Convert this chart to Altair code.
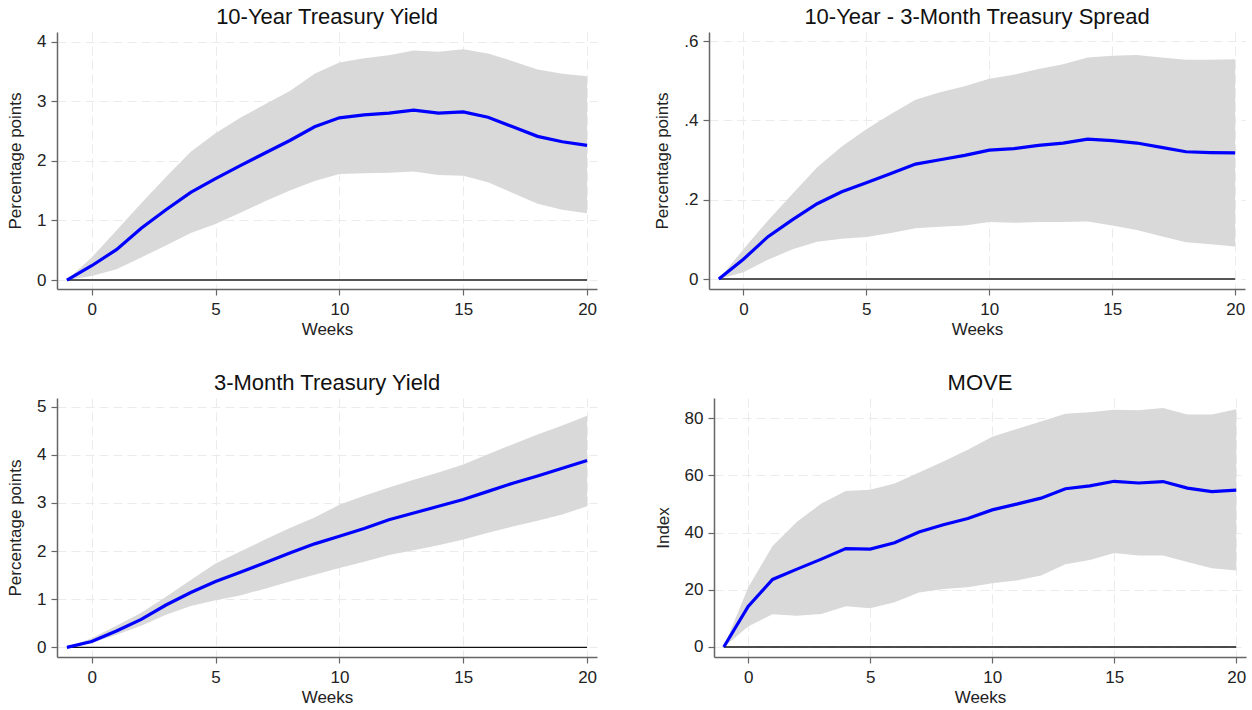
import altair as alt
import pandas as pd

# Horizon in weeks (event at week -1 normalised to zero)
weeks = list(range(-1, 21))
week_ticks = [0, 5, 10, 15, 20]

# 10-Year Treasury Yield: point estimate and confidence band
ty10_mean = [0, 0.24, 0.51, 0.87, 1.18, 1.47, 1.70, 1.92, 2.13, 2.34, 2.57,
             2.72, 2.77, 2.80, 2.85, 2.80, 2.82, 2.73, 2.57, 2.41, 2.32, 2.26]
ty10_upper = [0, 0.38, 0.83, 1.29, 1.73, 2.15, 2.46, 2.72, 2.95, 3.17, 3.46,
              3.65, 3.72, 3.77, 3.85, 3.83, 3.87, 3.80, 3.67, 3.53, 3.46, 3.42]
ty10_lower = [0, 0.07, 0.18, 0.38, 0.58, 0.79, 0.94, 1.13, 1.32, 1.50, 1.66,
              1.78, 1.79, 1.80, 1.82, 1.76, 1.75, 1.64, 1.46, 1.28, 1.18, 1.12]

# 10-Year minus 3-Month spread
spread_mean = [0, 0.050, 0.107, 0.150, 0.190, 0.220, 0.243, 0.266, 0.290, 0.301, 0.312,
               0.325, 0.329, 0.337, 0.343, 0.353, 0.349, 0.343, 0.332, 0.321, 0.319, 0.318]
spread_upper = [0, 0.075, 0.148, 0.215, 0.282, 0.334, 0.378, 0.416, 0.452, 0.471, 0.486,
                0.505, 0.515, 0.530, 0.542, 0.559, 0.563, 0.565, 0.559, 0.553, 0.553, 0.554]
spread_lower = [0, 0.017, 0.049, 0.075, 0.094, 0.102, 0.106, 0.116, 0.128, 0.132, 0.135,
                0.144, 0.142, 0.144, 0.144, 0.145, 0.135, 0.124, 0.108, 0.093, 0.088, 0.082]

# 3-Month Treasury Yield
tb3_mean = [0, 0.12, 0.34, 0.58, 0.88, 1.14, 1.37, 1.56, 1.76, 1.96, 2.15,
            2.31, 2.47, 2.65, 2.79, 2.93, 3.07, 3.24, 3.41, 3.56, 3.72, 3.88]
tb3_upper = [0, 0.19, 0.45, 0.72, 1.05, 1.40, 1.74, 1.99, 2.24, 2.48, 2.70,
             2.96, 3.15, 3.32, 3.48, 3.63, 3.80, 4.01, 4.22, 4.42, 4.61, 4.81]
tb3_lower = [0, 0.09, 0.26, 0.45, 0.68, 0.86, 0.98, 1.08, 1.22, 1.37, 1.51,
             1.65, 1.78, 1.92, 2.02, 2.12, 2.24, 2.38, 2.51, 2.63, 2.76, 2.93]

# MOVE index
move_mean = [0, 14.2, 23.6, 27.2, 30.7, 34.4, 34.2, 36.4, 40.2, 42.7, 44.9,
             47.9, 49.9, 52.0, 55.3, 56.3, 57.9, 57.3, 57.8, 55.5, 54.3, 54.8]
move_upper = [0, 20.8, 35.3, 43.8, 50.1, 54.5, 54.9, 57.1, 61.0, 64.8, 68.9,
              73.5, 76.2, 78.8, 81.5, 82.0, 82.9, 82.7, 83.5, 81.2, 81.2, 83.1]
move_lower = [0, 7.2, 11.4, 10.9, 11.5, 14.2, 13.5, 15.6, 19.0, 20.3, 20.9,
              22.3, 23.2, 25.0, 28.9, 30.4, 32.8, 32.0, 32.0, 29.7, 27.5, 26.7]

FONT = "Liberation Sans"


def panel(title, mean, lower, upper, ydomain, yticks, ytitle, width, height,
          zero_color, zero_width, label_expr=None):
    df = pd.DataFrame({"week": weeks, "mean": mean, "lower": lower, "upper": upper})
    zero_df = pd.DataFrame({"start": [weeks[0]], "end": [weeks[-1]], "level": [0]})

    xscale = alt.Scale(domain=[-1.4, 20.4], nice=False, zero=False)
    yscale = alt.Scale(domain=ydomain, nice=False, zero=False)
    xaxis = alt.Axis(values=week_ticks, title="Weeks", format="d")
    yargs = dict(values=yticks, title=ytitle)
    if label_expr:
        yargs["labelExpr"] = label_expr
    else:
        yargs["format"] = "d"
    yaxis = alt.Axis(**yargs)

    band = alt.Chart(df).mark_area(color="#d9d9d9", opacity=1).encode(
        x=alt.X("week:Q", scale=xscale, axis=xaxis),
        y=alt.Y("lower:Q", scale=yscale, axis=yaxis),
        y2="upper:Q",
    )
    zero = alt.Chart(zero_df).mark_rule(color=zero_color, strokeWidth=zero_width).encode(
        x="start:Q", x2="end:Q", y="level:Q"
    )
    line = alt.Chart(df).mark_line(color="#0000ff", strokeWidth=3.2).encode(
        x="week:Q", y="mean:Q"
    )
    return alt.layer(band, zero, line).properties(
        width=width, height=height,
        title=alt.TitleParams(title, fontSize=22, font=FONT, fontWeight="normal",
                              color="#111111", offset=3),
    )


tl = panel("10-Year Treasury Yield", ty10_mean, ty10_lower, ty10_upper,
           [-0.15, 4.16], [0, 1, 2, 3, 4], "Percentage points", 540, 257,
           "#555555", 2)
tr = panel("10-Year - 3-Month Treasury Spread", spread_mean, spread_lower, spread_upper,
           [-0.025, 0.623], [0, 0.2, 0.4, 0.6], "Percentage points", 536, 257,
           "#555555", 2,
           label_expr="datum.value == 0 ? '0' : slice(format(datum.value, '.1f'), 1)")
bl = panel("3-Month Treasury Yield", tb3_mean, tb3_lower, tb3_upper,
           [-0.2, 5.18], [0, 1, 2, 3, 4, 5], "Percentage points", 540, 259,
           "#111111", 1.4)
br = panel("MOVE", move_mean, move_lower, move_upper,
           [-3.5, 87], [0, 20, 40, 60, 80], "Index", 532, 259,
           "#111111", 1.4)

chart = alt.vconcat(
    alt.hconcat(tl, tr, spacing=55),
    alt.hconcat(bl, br, spacing=55),
    spacing=33,
).properties(
    padding={"left": 6, "top": 5, "right": 2, "bottom": 0},
    background="white",
).configure_view(
    stroke="transparent"
).configure_axis(
    labelFont=FONT, titleFont=FONT,
    labelFontSize=17, titleFontSize=17, titleFontWeight="normal",
    labelColor="#222222", titleColor="#222222",
    domainColor="#666666", domainWidth=1.5,
    tickColor="#666666", tickWidth=1.2, tickSize=6,
    gridColor="#ebebeb", gridWidth=1, gridDash=[9, 5],
).configure_axisX(
    labelPadding=6, titlePadding=4,
).configure_axisY(
    labelPadding=5, titlePadding=12,
)

chart.save("out.html", embed_options={"renderer": "svg", "actions": False})
